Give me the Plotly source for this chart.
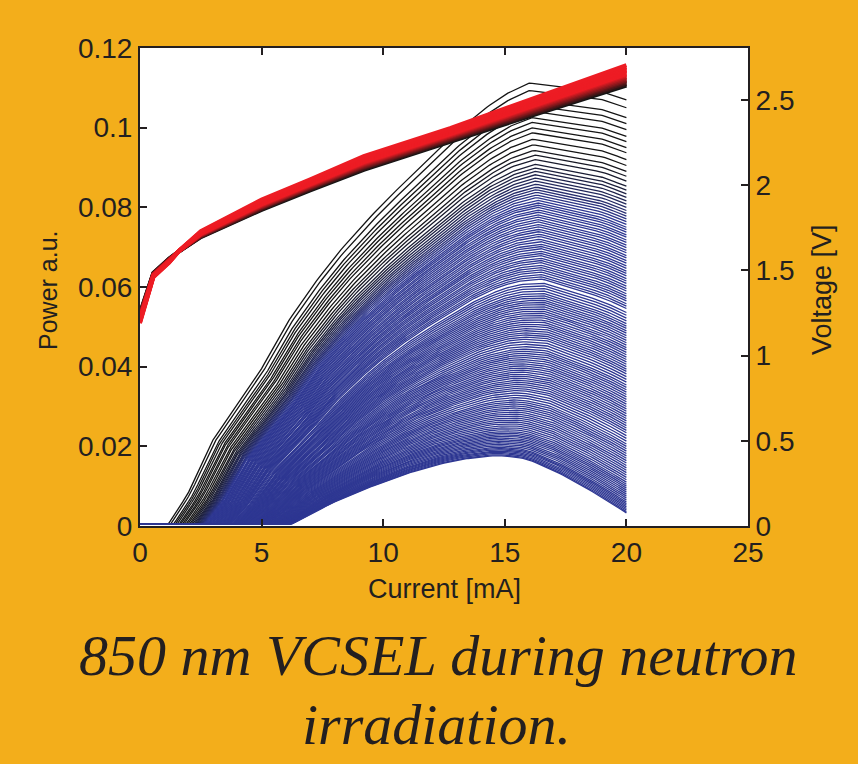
import numpy as np
import plotly.graph_objects as go

# ---------------- data ----------------
current_ticks = [0, 5, 10, 15, 20, 25]
power_ticks = [0, 0.02, 0.04, 0.06, 0.08, 0.1, 0.12]
voltage_ticks = [0, 0.5, 1, 1.5, 2, 2.5]

# first recorded L-I curve (before irradiation, black, top)
li_first_current = [0, 1.15, 1.5, 2, 3, 4, 5, 6, 7, 8, 9, 10, 11, 12, 13, 14, 15, 16, 17, 18, 19, 20]
li_first_power = [0.0004, 0.0004, 0.0035, 0.0085, 0.0216, 0.0305, 0.0395, 0.0505, 0.0595, 0.0675,
                  0.0745, 0.0810, 0.0870, 0.0930, 0.0988, 0.1040, 0.1083, 0.1112, 0.1105, 0.1098,
                  0.1090, 0.1070]
li_first_threshold = 1.15

# last recorded L-I curve (most irradiated, blue, bottom)
li_last_current = [0, 6.2, 7, 7.8, 9, 10, 11, 12, 13, 14, 14.7, 15.5, 16, 17, 18, 19, 20]
li_last_power = [0.0004, 0.0004, 0.0028, 0.0055, 0.0087, 0.0110, 0.0132, 0.0151, 0.0165, 0.0174,
                 0.0177, 0.0173, 0.0166, 0.0140, 0.0108, 0.0072, 0.0033]
li_last_threshold = 6.2

# power of every recorded L-I curve at 20 mA (its right end), top to bottom
li_end_power = [
    0.1070, 0.1050, 0.1025, 0.1010, 0.0995, 0.0978, 0.0965, 0.0950, 0.0937, 0.0920,
    0.0905, 0.0890, 0.0878, 0.0866, 0.0853, 0.0843, 0.0834, 0.0825, 0.0816, 0.0808,
    0.0800, 0.0792, 0.0785, 0.0778, 0.0771, 0.0764, 0.0757, 0.0750, 0.0744, 0.0738,
    0.0731, 0.0725, 0.0718, 0.0712, 0.0705, 0.0699, 0.0692, 0.0686, 0.0679, 0.0673,
    0.0666, 0.0660, 0.0653, 0.0647, 0.0640, 0.0634, 0.0628, 0.0621, 0.0615, 0.0609,
    0.0602, 0.0596, 0.0590, 0.0583, 0.0577, 0.0571, 0.0565, 0.0558, 0.0552, 0.0546,
    0.0536, 0.0529, 0.0522, 0.0515, 0.0508, 0.0502, 0.0496, 0.0490, 0.0484, 0.0478,
    0.0472, 0.0466, 0.0460, 0.0454, 0.0448, 0.0442, 0.0436, 0.0430, 0.0424, 0.0418,
    0.0412, 0.0406, 0.0400, 0.0394, 0.0388, 0.0382, 0.0375, 0.0368, 0.0361, 0.0354,
    0.0348, 0.0342, 0.0336, 0.0330, 0.0324, 0.0318, 0.0312, 0.0306, 0.0300, 0.0294,
    0.0288, 0.0282, 0.0276, 0.0270, 0.0264, 0.0258, 0.0252, 0.0246, 0.0240, 0.0234,
    0.0227, 0.0220, 0.0213, 0.0206, 0.0200, 0.0194, 0.0188, 0.0182, 0.0176, 0.0170,
    0.0164, 0.0158, 0.0152, 0.0146, 0.0140, 0.0134, 0.0128, 0.0122, 0.0116, 0.0110,
    0.0105, 0.0100, 0.0095, 0.0090, 0.0085, 0.0080, 0.0075, 0.0070, 0.0065, 0.0060,
    0.0056, 0.0052, 0.0048, 0.0044, 0.0040, 0.0036, 0.0033,
]

# V-I curves: first (black) and last (red)
vi_current = [0, 0.55, 1.2, 1.64, 2.5, 5, 7, 9.2, 12.75, 16, 20]
vi_first = [1.25, 1.485, 1.57, 1.615, 1.695, 1.855, 1.97, 2.09, 2.255, 2.405, 2.585]
vi_last = [1.19, 1.46, 1.545, 1.62, 1.73, 1.915, 2.035, 2.17, 2.335, 2.50, 2.705]
vi_levels = [0, 0.07, 0.14, 0.21, 0.28, 0.35, 0.42, 0.49, 0.56, 0.63, 0.70, 0.77, 0.84, 0.91, 1.0]

# ---------------- styling ----------------
BG = "#F3AE1B"
INK = "#231F20"
BLACK = (20, 20, 20)
BLUE = (46, 55, 146)
RED = (237, 28, 36)
FONT = "Liberation Sans, Arial, sans-serif"


def mix(c1, c2, f):
    return "rgb(%d,%d,%d)" % tuple(round(a + (b - a) * f) for a, b in zip(c1, c2))


grid = np.linspace(0, 20, 161)
first_end = li_first_power[-1]
last_end = li_last_power[-1]

fig = go.Figure()

for k, end in enumerate(li_end_power):
    w = (end - last_end) / (first_end - last_end)
    t = li_last_threshold + w * (li_first_threshold - li_last_threshold)
    cur = np.unique(np.append(grid, t))
    x = np.clip((cur - t) / (20 - t), 0, 1)
    pf = np.interp(li_first_threshold + x * (20 - li_first_threshold), li_first_current, li_first_power)
    pl = np.interp(li_last_threshold + x * (20 - li_last_threshold), li_last_current, li_last_power)
    power = w * pf + (1 - w) * pl
    if k <= 10:
        col = mix(BLACK, BLACK, 0)
    else:
        col = mix(BLACK, BLUE, min(1.0, (k - 10) / 16))
    fig.add_trace(go.Scatter(x=cur, y=power, mode="lines", line=dict(color=col, width=1.3),
                             hoverinfo="skip", showlegend=False))

n_v = len(vi_levels)
for k, lv in enumerate(vi_levels):
    v = [a + lv * (b - a) for a, b in zip(vi_first, vi_last)]
    col = mix(BLACK, RED, min(1.0, 1.8 * k / (n_v - 1)))
    fig.add_trace(go.Scatter(x=vi_current, y=v, mode="lines", yaxis="y2",
                             line=dict(color=col, width=4), hoverinfo="skip", showlegend=False))

axis_common = dict(ticks="inside", ticklen=7, tickwidth=1.6, tickcolor=INK, showline=True,
                   linecolor=INK, linewidth=2, showgrid=False, zeroline=False,
                   tickfont=dict(family=FONT, size=28, color=INK))

PW, PH = 608, 478


def px(xp):
    return (xp - 140) / PW


def py(yp):
    return (526 - yp) / PH


fig.update_layout(
    width=858, height=764,
    margin=dict(l=140, r=110, t=48, b=238),
    paper_bgcolor=BG, plot_bgcolor="white",
    xaxis=dict(range=[0, 25], tickvals=current_ticks, mirror="ticks", **axis_common),
    yaxis=dict(range=[0, 0.12], tickvals=power_ticks, ticktext=[("%g" % v) for v in power_ticks],
               **axis_common),
    yaxis2=dict(range=[0, 2.805], tickvals=voltage_ticks, ticktext=[("%g" % v) for v in voltage_ticks],
                overlaying="y", side="right", **axis_common),
    annotations=[
        dict(text="Current [mA]", xref="paper", yref="paper", x=px(444), y=py(589),
             xanchor="center", yanchor="middle",
             showarrow=False, font=dict(family=FONT, size=27, color=INK)),
        dict(text="Power a.u.", xref="paper", yref="paper", x=px(48), y=py(290),
             xanchor="center", yanchor="middle",
             textangle=-90, showarrow=False, font=dict(family=FONT, size=25, color=INK)),
        dict(text="Voltage [V]", xref="paper", yref="paper", x=px(822), y=py(290),
             xanchor="center", yanchor="middle",
             textangle=-90, showarrow=False, font=dict(family=FONT, size=27, color=INK)),
        dict(text="<i>850 nm VCSEL during neutron</i>", xref="paper", yref="paper",
             x=px(438), y=py(655), xanchor="center", yanchor="middle", showarrow=False,
             font=dict(family="Liberation Serif, serif", size=58, color=INK)),
        dict(text="<i>irradiation.</i>", xref="paper", yref="paper",
             x=px(436), y=py(724), xanchor="center", yanchor="middle", showarrow=False,
             font=dict(family="Liberation Serif, serif", size=58, color=INK)),
    ],
)

fig.write_html("out.html", config={"displayModeBar": False},
               post_script="document.body.style.margin='0';document.body.style.background='%s';" % BG)
